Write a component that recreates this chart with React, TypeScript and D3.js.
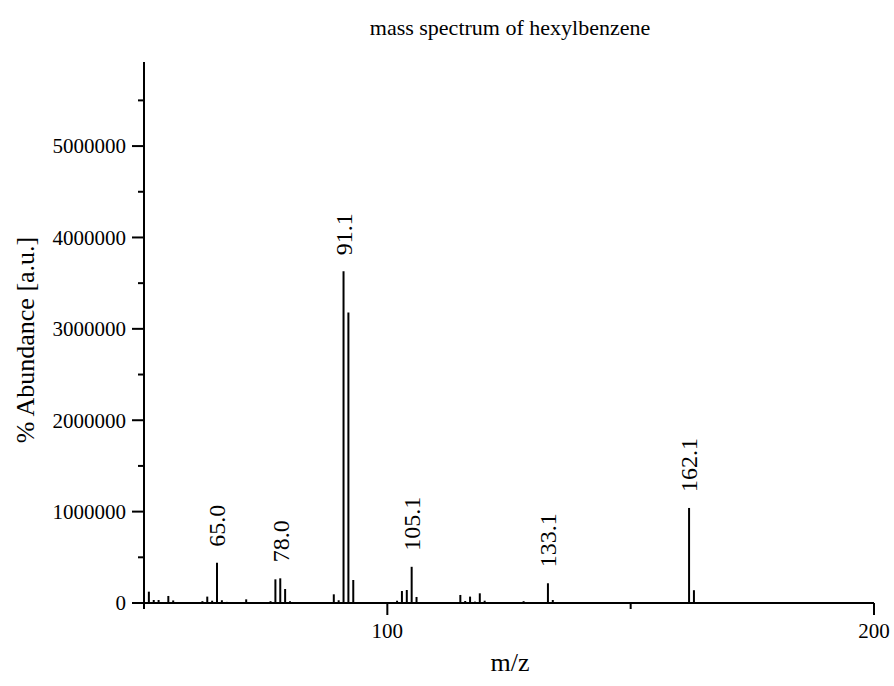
import React from "react";
import * as d3 from "d3";

const mz: number[] = [51, 52, 53, 54, 55, 56, 57, 62, 63, 64, 65, 66, 67, 69, 70, 71, 74, 75, 76, 77, 78, 79, 80, 89, 90, 91, 92, 93, 94, 96, 102, 103, 104, 105, 106, 107, 108, 115, 116, 117, 118, 119, 120, 128, 131, 133, 134, 147, 162, 163];
const abundance: number[] = [124000, 33000, 33000, 5000, 77000, 28000, 3000, 20000, 70000, 25000, 441000, 30000, 12000, 10000, 10000, 40000, 10000, 10000, 20000, 259000, 270000, 153000, 20000, 95000, 30000, 3630000, 3180000, 252000, 10000, 3000, 25000, 131000, 142000, 396000, 66000, 5000, 3000, 88000, 22000, 70000, 15000, 106000, 25000, 20000, 4000, 216000, 33000, 5000, 1040000, 140000];

const labelMz: number[] = [65, 78, 91, 105, 133, 162];
const labelText: string[] = ["65.0", "78.0", "91.1", "105.1", "133.1", "162.1"];

const yMajor: number[] = [0, 1000000, 2000000, 3000000, 4000000, 5000000];
const yMinor: number[] = [500000, 1500000, 2500000, 3500000, 4500000, 5500000];
const xMajor: number[] = [100, 200];
const xMinor: number[] = [50, 150];

const W = 894;
const H = 686;
const tStyle: React.CSSProperties = { fontFamily: "Liberation Serif, Times New Roman, serif" };

export default function App() {
  const x = d3.scaleLinear().domain([50, 200]).range([144, 874]);
  const y = d3.scaleLinear().domain([0, 5920000]).range([603, 62]);
  const tickFs = 21;
  const peakFs = 24;
  const axisFs = 26;
  const titleFs = 22;
  return (
    <svg width={W} height={H} style={{ position: "absolute", left: 0, top: 0, background: "#fff" }}>
      <rect x={0} y={0} width={W} height={H} fill="#fff" />
      <text x={510} y={35} style={tStyle} fontSize={titleFs} textAnchor="middle" fill="#000">mass spectrum of hexylbenzene</text>
      {mz.map((m, i) => (
        <line key={"b" + i} x1={x(m)} x2={x(m)} y1={y(0)} y2={y(abundance[i])} stroke="#000" strokeWidth={2} />
      ))}
      {labelMz.map((m, i) => {
        const idx = mz.indexOf(m);
        const top = y(abundance[idx]);
        return (
          <text key={"l" + i} style={tStyle} transform={`translate(${x(m)},${top - 16}) rotate(-90)`} fontSize={peakFs} dy="0.35em" textAnchor="start" fill="#000">{labelText[i]}</text>
        );
      })}
      <line x1={144} x2={144} y1={y.range()[1]} y2={y(0)} stroke="#000" strokeWidth={2} />
      {yMajor.map((v) => (
        <g key={"ym" + v}>
          <line x1={132} x2={144} y1={y(v)} y2={y(v)} stroke="#000" strokeWidth={2} />
          <text x={126} y={y(v)} style={tStyle} dy="0.35em" textAnchor="end" fontSize={tickFs} fill="#000">{v}</text>
        </g>
      ))}
      {yMinor.map((v) => (
        <line key={"yn" + v} x1={138} x2={144} y1={y(v)} y2={y(v)} stroke="#000" strokeWidth={2} />
      ))}
      <line x1={x(50)} x2={x(200)} y1={603} y2={603} stroke="#000" strokeWidth={2} />
      {xMajor.map((v) => (
        <g key={"xm" + v}>
          <line x1={x(v)} x2={x(v)} y1={603} y2={615} stroke="#000" strokeWidth={2} />
          <text x={x(v)} y={638} style={tStyle} textAnchor="middle" fontSize={tickFs} fill="#000">{v}</text>
        </g>
      ))}
      {xMinor.map((v) => (
        <line key={"xn" + v} x1={x(v)} x2={x(v)} y1={603} y2={609} stroke="#000" strokeWidth={2} />
      ))}
      <text x={510} y={671} style={tStyle} textAnchor="middle" fontSize={axisFs} fill="#000">m/z</text>
      <text transform={`translate(33.5,340) rotate(-90)`} style={tStyle} textAnchor="middle" fontSize={axisFs} fill="#000">% Abundance [a.u.]</text>
    </svg>
  );
}
